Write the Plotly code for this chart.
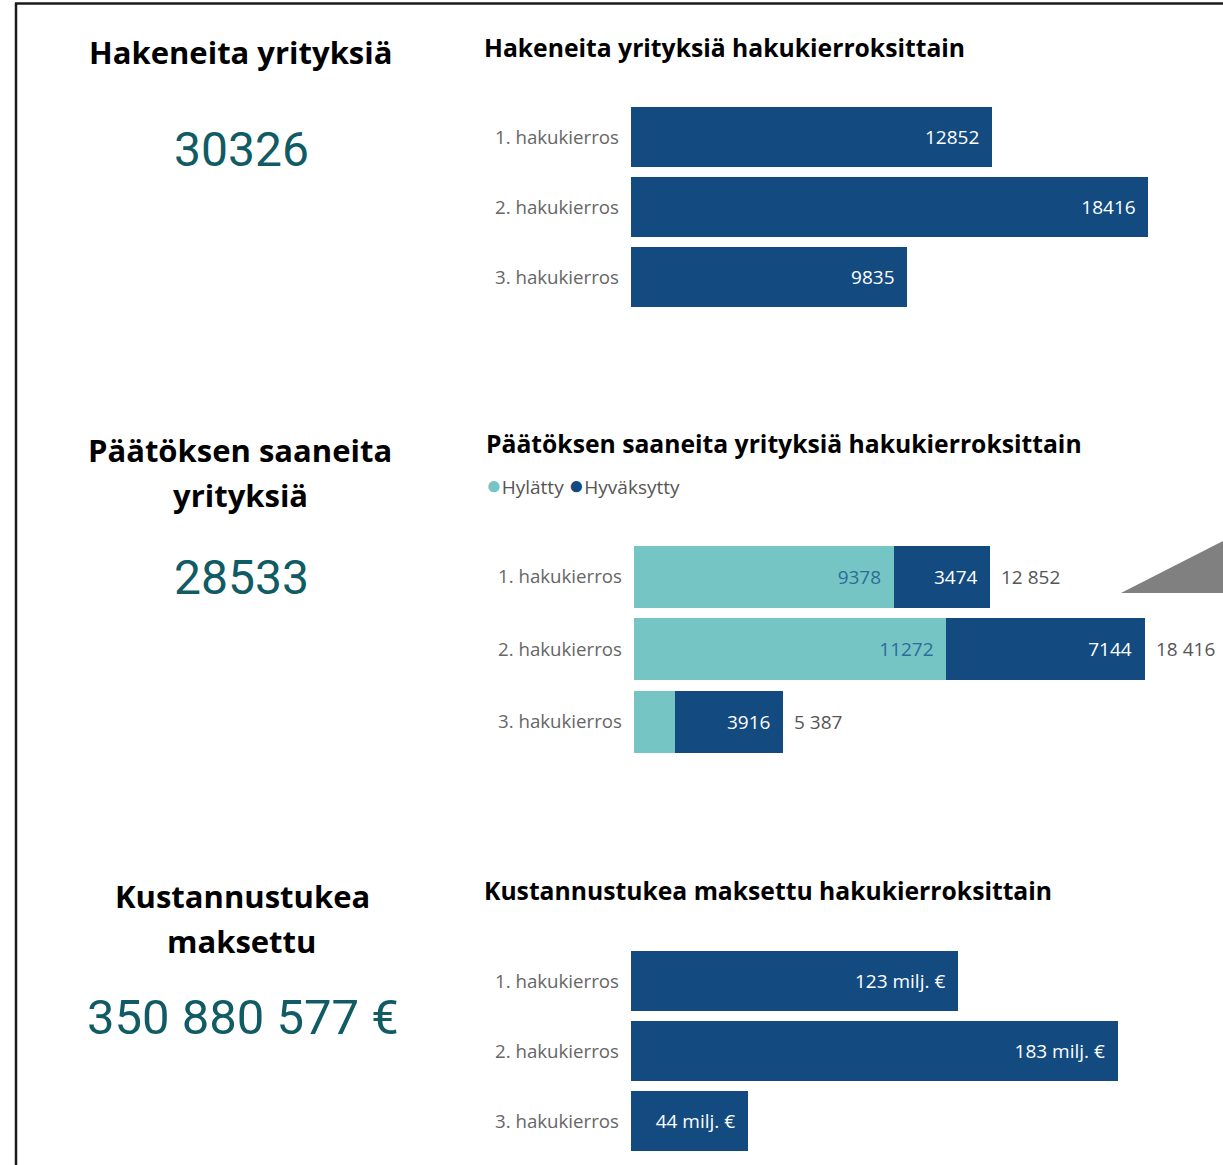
import plotly.graph_objects as go

# ---------------- data ----------------
rounds = ["1. hakukierros", "2. hakukierros", "3. hakukierros"]

applicants = [12852, 18416, 9835]

rejected = [9378, 11272, 1471]
accepted = [3474, 7144, 3916]
decision_totals = [12852, 18416, 5387]

paid_milj = [123, 183, 44]

kpi_applicants = 30326
kpi_decisions = 28533
kpi_paid_eur = 350880577

title_kpi1 = "Hakeneita yrityksiä"
title_kpi2 = ["Päätöksen saaneita", "yrityksiä"]
title_kpi3 = ["Kustannustukea", "maksettu"]
title_chart1 = "Hakeneita yrityksiä hakukierroksittain"
title_chart2 = "Päätöksen saaneita yrityksiä hakukierroksittain"
title_chart3 = "Kustannustukea maksettu hakukierroksittain"
legend_names = ["Hylätty", "Hyväksytty"]

# ---------------- styling ----------------
W, H = 1223, 1165
DARK = "#134A7F"
LIGHT = "#74C5C4"
TEAL = "#105B64"
FONT = "Open Sans, Segoe UI, sans-serif"
NUMFONT = "Roboto, sans-serif"
NB = "\u00a0\u00a0"
LBL = 19


def fx(x):
    return x / W


def fy(y):
    return 1 - y / H


def spaced(v):
    return f"{v:,}".replace(",", " ")


fig = go.Figure()
nolines = dict(line=dict(width=0))

# chart 1
fig.add_trace(go.Bar(
    y=rounds, x=applicants, orientation="h", marker=dict(color=DARK, **nolines),
    texttemplate="%{x:d}" + NB, textposition="inside", insidetextanchor="end",
    textangle=0, textfont=dict(color="white", size=LBL, family=FONT),
    xaxis="x", yaxis="y", showlegend=False, hoverinfo="skip"))

# chart 2 (stacked)
fig.add_trace(go.Bar(
    y=rounds, x=rejected, orientation="h", marker=dict(color=LIGHT, **nolines), name=legend_names[0],
    texttemplate="%{x:d}" + NB, textposition="inside", insidetextanchor="end",
    textangle=0, textfont=dict(color="#2f6b9a", size=LBL, family=FONT),
    xaxis="x2", yaxis="y2", showlegend=False, hoverinfo="skip"))
fig.add_trace(go.Bar(
    y=rounds, x=accepted, orientation="h", marker=dict(color=DARK, **nolines), name=legend_names[1],
    texttemplate="%{x:d}" + NB, textposition="inside", insidetextanchor="end",
    textangle=0, textfont=dict(color="white", size=LBL, family=FONT),
    xaxis="x2", yaxis="y2", showlegend=False, hoverinfo="skip"))

# chart 3
fig.add_trace(go.Bar(
    y=rounds, x=paid_milj, orientation="h", marker=dict(color=DARK, **nolines),
    texttemplate="%{x:.0f} milj. €" + NB, textposition="inside", insidetextanchor="end",
    textangle=0, textfont=dict(color="white", size=LBL, family=FONT),
    xaxis="x3", yaxis="y3", showlegend=False, hoverinfo="skip"))

xcommon = dict(showgrid=False, zeroline=False, showticklabels=False, showline=False, fixedrange=True)
ycommon = dict(showgrid=False, zeroline=False, showline=False, ticks="", autorange="reversed",
               tickfont=dict(size=18.7, color="#666666", family=FONT), ticklabelstandoff=11,
               fixedrange=True)

annotations = []


def ann(text, x, y, size, color="#000000", xanchor="left", family=FONT, **kw):
    annotations.append(dict(text=text, x=fx(x), y=fy(y), xref="paper", yref="paper",
                            xanchor=xanchor, yanchor="middle", showarrow=False,
                            font=dict(size=size, color=color, family=family), **kw))


# KPI cards
ann(f"<b>{title_kpi1}</b>", 240, 52, 31, xanchor="center")
ann(f"{kpi_applicants}", 241, 150, 48, color=TEAL, xanchor="center", family=NUMFONT)
ann(f"<b>{title_kpi2[0]}</b>", 240, 450, 31, xanchor="center")
ann(f"<b>{title_kpi2[1]}</b>", 240, 495, 31, xanchor="center")
ann(f"{kpi_decisions}", 241, 577, 48, color=TEAL, xanchor="center", family=NUMFONT)
ann(f"<b>{title_kpi3[0]}</b>", 242, 896, 31, xanchor="center")
ann(f"<b>{title_kpi3[1]}</b>", 241, 941, 31, xanchor="center")
ann(f"{spaced(kpi_paid_eur)} €", 243, 1017, 49, color=TEAL, xanchor="center", family=NUMFONT)

# chart titles
ann(f"<b>{title_chart1}</b>", 482, 47, 24.7)
ann(f"<b>{title_chart2}</b>", 484, 443, 24.7)
ann(f"<b>{title_chart3}</b>", 482, 890, 24.7)

# legend for chart 2
ann(f"<span style='color:{LIGHT};font-size:26px'>●</span>{legend_names[0]} "
    f"<span style='color:{DARK};font-size:26px'>●</span>{legend_names[1]}", 484, 484, 19,
    color="#555555")

# totals for chart 2
for r, t in zip(rounds, decision_totals):
    annotations.append(dict(text=spaced(t), x=t, y=r, xref="x2", yref="y2",
                            xanchor="left", yanchor="middle", xshift=9, showarrow=False,
                            font=dict(size=LBL, color="#555555", family=FONT)))

shapes = [
    dict(type="line", xref="paper", yref="paper", x0=fx(16), x1=fx(16), y0=fy(3), y1=fy(H),
         line=dict(color="#1a1a1a", width=2.5)),
    dict(type="line", xref="paper", yref="paper", x0=fx(15), x1=fx(W), y0=fy(3.5), y1=fy(3.5),
         line=dict(color="#1a1a1a", width=2.5)),
    dict(type="path", xref="paper", yref="paper",
         path=f"M {fx(1121)} {fy(593)} L {fx(1223)} {fy(541)} L {fx(1223)} {fy(593)} Z",
         fillcolor="#808080", line=dict(width=0)),
]

fig.update_layout(
    width=W, height=H, margin=dict(l=0, r=0, t=0, b=0),
    paper_bgcolor="white", plot_bgcolor="white",
    barmode="stack", bargap=0.143,
    uniformtext=dict(minsize=LBL, mode="hide"),
    font=dict(family=FONT),
    xaxis=dict(domain=[fx(631), 1], range=[0, 21068], anchor="y", **xcommon),
    yaxis=dict(domain=[fy(312), fy(102)], anchor="x", **ycommon),
    xaxis2=dict(domain=[fx(634), 1], range=[0, 21248], anchor="y2", **xcommon),
    yaxis2=dict(domain=[fy(758), fy(540.5)], anchor="x2", **ycommon),
    xaxis3=dict(domain=[fx(631), 1], range=[0, 222.6], anchor="y3", **xcommon),
    yaxis3=dict(domain=[fy(1156), fy(946)], anchor="x3", **ycommon),
    annotations=annotations, shapes=shapes,
)

fig.write_html("out.html", config={"displayModeBar": False},
               post_script="document.body.style.margin='0';document.body.style.overflow='hidden';")
